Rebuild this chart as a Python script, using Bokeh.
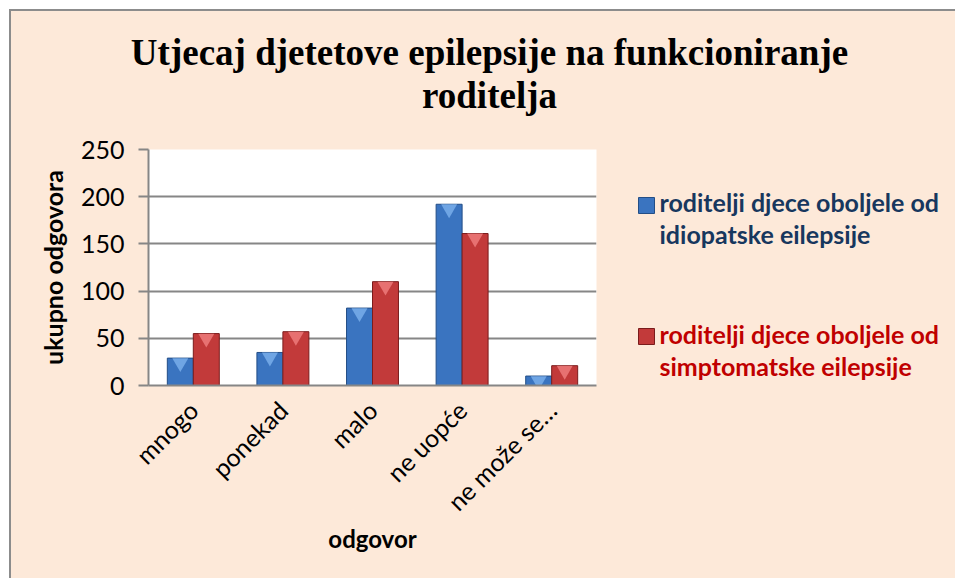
import math
from bokeh.plotting import figure
from bokeh.layouts import column, row
from bokeh.models import ColumnDataSource, FactorRange, Range1d
from bokeh.core.properties import value
from bokeh.transform import dodge
from bokeh.embed import file_html
from bokeh.resources import INLINE

categories = ["mnogo", "ponekad", "malo", "ne uopće", "ne može se…"]
idiopatske = [29, 35, 82, 192, 10]
simptomatske = [55, 57, 110, 161, 21]
y_ticks = [0, 50, 100, 150, 200, 250]
series_names = ["roditelji djece oboljele od\nidiopatske eilepsije",
                "roditelji djece oboljele od\nsimptomatske eilepsije"]
title_lines = ["Utjecaj djetetove epilepsije na funkcioniranje", "roditelja"]

BG = "#FDE9D9"
GRID = "#868686"
BLUE = "#3A74C0"
BLUE_EDGE = "#234E86"
BLUE_HI = "#7DB1EC"
RED = "#C23A3A"
RED_EDGE = "#7A1C1C"
RED_HI = "#F08080"
SANS = "Lato"
FS = "25px"


def blank(w, h):
    f = figure(frame_width=w, frame_height=h, x_range=Range1d(0, w), y_range=Range1d(h, 0),
               x_axis_type=None, y_axis_type=None, output_backend="svg",
               toolbar_location=None, min_border=0, title=None)
    f.background_fill_color = BG
    f.border_fill_color = BG
    f.outline_line_color = None
    return f

# ---------- title ----------
TW, TH = 944, 120
tf = blank(TW, TH)
tf.text(x=[478, 478], y=[41, 84], text=title_lines, text_align="center",
        text_baseline="alphabetic", text_font=value("Liberation Serif"),
        text_font_style="bold", text_font_size=value("37px"), text_color="black")

# ---------- main chart ----------
src = ColumnDataSource(dict(cat=categories, a=idiopatske, b=simptomatske,
                            a_hi=[v - 5 for v in idiopatske],
                            b_hi=[v - 5 for v in simptomatske]))

MH = 447
p = figure(width=595, height=MH, x_range=FactorRange(*categories, range_padding=0),
           y_range=(0, 250), output_backend="svg", toolbar_location=None,
           min_border_left=137, min_border_right=10, min_border_top=18,
           min_border_bottom=193)
p.background_fill_color = "white"
p.border_fill_color = BG
p.outline_line_color = None

bw = 0.29
p.vbar(x=dodge("cat", -bw / 2, range=p.x_range), top="a", width=bw, source=src,
       fill_color=BLUE, line_color=BLUE_EDGE, line_width=1)
p.vbar(x=dodge("cat", bw / 2, range=p.x_range), top="b", width=bw, source=src,
       fill_color=RED, line_color=RED_EDGE, line_width=1)
p.scatter(x=dodge("cat", -bw / 2, range=p.x_range), y="a_hi", source=src,
          marker="inverted_triangle", size=16, fill_color=BLUE_HI, line_color=None, fill_alpha=0.8)
p.scatter(x=dodge("cat", bw / 2, range=p.x_range), y="b_hi", source=src,
          marker="inverted_triangle", size=16, fill_color=RED_HI, line_color=None, fill_alpha=0.8)

p.xgrid.grid_line_color = None
p.ygrid.grid_line_color = GRID
p.ygrid.grid_line_width = 2
p.yaxis.ticker = y_ticks

p.yaxis.axis_line_color = GRID
p.yaxis.axis_line_width = 2
p.yaxis.major_tick_line_color = GRID
p.yaxis.major_tick_line_width = 2
p.yaxis.major_tick_out = 10
p.yaxis.major_tick_in = 0
p.yaxis.minor_tick_line_color = None
p.yaxis.major_label_text_font = SANS
p.yaxis.major_label_text_font_size = FS
p.yaxis.major_label_text_color = "black"
p.yaxis.major_label_standoff = 14
p.yaxis.axis_label = "ukupno odgovora"
p.yaxis.axis_label_text_font = SANS
p.yaxis.axis_label_text_font_style = "bold"
p.yaxis.axis_label_text_font_size = FS
p.yaxis.axis_label_text_color = "black"
p.yaxis.axis_label_standoff = 10

p.xaxis.axis_line_color = GRID
p.xaxis.axis_line_width = 2
p.xaxis.major_tick_line_color = None
p.xaxis.minor_tick_line_color = None
p.xaxis.major_label_orientation = math.pi / 4
p.xaxis.major_label_text_font = SANS
p.xaxis.major_label_text_font_size = FS
p.xaxis.major_label_text_color = "black"
p.xaxis.major_label_standoff = 14
p.xaxis.axis_label = "odgovor"
p.xaxis.axis_label_text_font = SANS
p.xaxis.axis_label_text_font_style = "bold"
p.xaxis.axis_label_text_font_size = "24px"
p.xaxis.axis_label_text_color = "black"
p.xaxis.axis_label_standoff = -6

# ---------- legend ----------
LW = 349
lf = blank(LW, MH)
leg_style = [(BLUE, BLUE_EDGE, "#17375E", 48, 52), (RED, RED_EDGE, "#C00000", 179, 184)]
for name, (fc, ec, tc, top, base) in zip(series_names, leg_style):
    lf.quad(left=[32], right=[48], top=[top], bottom=[top + 16],
            fill_color=fc, line_color=ec, line_width=1)
    lines = name.split("\n")
    lf.text(x=[53] * len(lines), y=[base + 32 * j for j in range(len(lines))],
            text=lines, text_align="left", text_baseline="alphabetic",
            text_font=value(SANS), text_font_style="bold",
            text_font_size=value(FS), text_color=tc)

layout = column(tf, row(p, lf, spacing=0), spacing=0,
                styles={"margin-left": "9px", "margin-top": "9px",
                        "background-color": BG,
                        "border-left": "2px solid #8C8C8C",
                        "border-top": "2px solid #8C8C8C"})

open("out.html", "w").write(file_html(layout, INLINE))
